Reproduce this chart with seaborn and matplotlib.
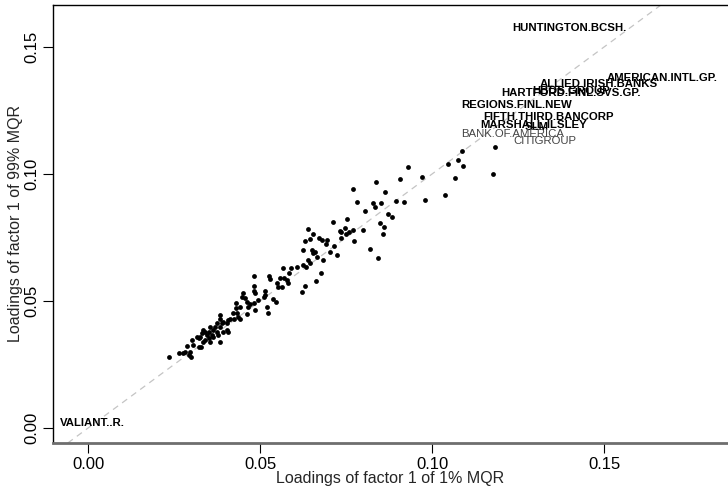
import numpy as np
import pandas as pd
import matplotlib
matplotlib.use("Agg")
import matplotlib.pyplot as plt
import seaborn as sns

sns.set_theme(style="white")
plt.rcParams["font.family"] = ["Liberation Sans", "DejaVu Sans"]

# loadings (1% MQR on x, 99% MQR on y)
load_1 = [0.1086, 0.1176, 0.1047, 0.1076, 0.1091, 0.1067, 0.1038, 0.0970, 0.0980, 0.0931,
          0.0907, 0.0919, 0.0894, 0.0836, 0.0864, 0.0770, 0.0782, 0.0829, 0.0852, 0.0834,
          0.0805, 0.0873, 0.0883, 0.0849, 0.0860, 0.0858, 0.0800, 0.0818, 0.0844, 0.0774,
          0.0713, 0.0752, 0.0731, 0.0735, 0.0747, 0.0757, 0.0749, 0.0769, 0.0734, 0.0639,
          0.0653, 0.0631, 0.0645, 0.0671, 0.0679, 0.0694, 0.0692, 0.0715, 0.0703, 0.0723,
          0.0684, 0.0626, 0.0650, 0.0660, 0.0665, 0.0653, 0.0640, 0.0624, 0.0634, 0.0645,
          0.0607, 0.0590, 0.0566, 0.0585, 0.0577, 0.0568, 0.0558, 0.0548, 0.0553, 0.0565,
          0.0582, 0.0527, 0.0529, 0.0483, 0.0481, 0.0482, 0.0485, 0.0513, 0.0514, 0.0510,
          0.0495, 0.0481, 0.0485, 0.0451, 0.0447, 0.0456, 0.0461, 0.0471, 0.0466, 0.0442,
          0.0430, 0.0430, 0.0422, 0.0432, 0.0437, 0.0442, 0.0424, 0.0413, 0.0403, 0.0408,
          0.0384, 0.0382, 0.0393, 0.0388, 0.0384, 0.0374, 0.0369, 0.0364, 0.0355, 0.0350,
          0.0345, 0.0340, 0.0335, 0.0330, 0.0325, 0.0321, 0.0316, 0.0301, 0.0306, 0.0321,
          0.0327, 0.0340, 0.0355, 0.0364, 0.0379, 0.0384, 0.0393, 0.0403, 0.0408, 0.0374,
          0.0359, 0.0350, 0.0335, 0.0287, 0.0282, 0.0277, 0.0296, 0.0298, 0.0292, 0.0263,
          0.0236, 0.0621, 0.0631, 0.0663, 0.0676, 0.0524, 0.0546, 0.0537, 0.0519, 0.0461,
          0.1183]
load_99 = [0.1091, 0.1000, 0.1039, 0.1055, 0.1032, 0.0985, 0.0919, 0.0989, 0.0897, 0.1028,
           0.0980, 0.0891, 0.0893, 0.0967, 0.0930, 0.0939, 0.0891, 0.0884, 0.0884, 0.0868,
           0.0855, 0.0841, 0.0830, 0.0805, 0.0790, 0.0763, 0.0779, 0.0703, 0.0668, 0.0737,
           0.0812, 0.0824, 0.0777, 0.0770, 0.0786, 0.0773, 0.0763, 0.0779, 0.0749, 0.0782,
           0.0762, 0.0737, 0.0742, 0.0746, 0.0740, 0.0740, 0.0723, 0.0716, 0.0694, 0.0681,
           0.0661, 0.0700, 0.0700, 0.0694, 0.0674, 0.0687, 0.0661, 0.0641, 0.0635, 0.0648,
           0.0632, 0.0628, 0.0628, 0.0611, 0.0582, 0.0592, 0.0589, 0.0572, 0.0556, 0.0556,
           0.0569, 0.0599, 0.0585, 0.0598, 0.0559, 0.0539, 0.0530, 0.0539, 0.0523, 0.0517,
           0.0504, 0.0491, 0.0464, 0.0530, 0.0517, 0.0510, 0.0497, 0.0488, 0.0477, 0.0477,
           0.0491, 0.0471, 0.0451, 0.0451, 0.0438, 0.0431, 0.0431, 0.0431, 0.0412, 0.0425,
           0.0445, 0.0431, 0.0418, 0.0412, 0.0399, 0.0412, 0.0399, 0.0386, 0.0399, 0.0379,
           0.0366, 0.0379, 0.0386, 0.0373, 0.0359, 0.0353, 0.0359, 0.0346, 0.0327, 0.0320,
           0.0320, 0.0346, 0.0340, 0.0359, 0.0366, 0.0340, 0.0379, 0.0386, 0.0379, 0.0379,
           0.0366, 0.0353, 0.0340, 0.0323, 0.0300, 0.0294, 0.0300, 0.0281, 0.0287, 0.0294,
           0.0278, 0.0537, 0.0559, 0.0580, 0.0611, 0.0454, 0.0497, 0.0508, 0.0477, 0.0449,
           0.1106]

# labelled firms (drawn as names instead of points)
firm_names = ["HUNTINGTON.BCSH.", "AMERICAN.INTL.GP.", "ALLIED.IRISH.BANKS", "HARTFORD.FINL.SVS.GP.",
              "HBOS.GROUP", "REGIONS.FINL.NEW", "FIFTH.THIRD.BANCORP", "MARSHALL.ILSLEY", "SLM",
              "BANK.OF.AMERICA", "CITIGROUP", "VALIANT..R."]
firm_x = [0.1398, 0.1669, 0.1485, 0.1404, 0.1404, 0.1247, 0.1337, 0.1294, 0.1305, 0.1235, 0.1328, 0.0012]
firm_y = [0.1575, 0.1378, 0.1354, 0.1319, 0.1327, 0.1272, 0.1224, 0.1193, 0.1185, 0.1157, 0.1130, 0.0020]
firm_bold = [True, True, True, True, True, True, True, True, True, False, False, True]

df = pd.DataFrame({"q01": load_1, "q99": load_99})

fig = plt.figure(figsize=(7.28, 4.87), dpi=100)
ax = fig.add_axes([53/728, 44/487, 675/728, 438/487])

ax.axline((0, 0), slope=1, color="#c4c4c4", lw=0.9, ls=(0, (5, 4)), zorder=1)
sns.scatterplot(data=df, x="q01", y="q99", ax=ax, color="black", s=12, linewidth=0, zorder=3)

for name, x, y, b in zip(firm_names, firm_x, firm_y, firm_bold):
    ax.text(x, y, name, ha="center", va="center", fontsize=8.2,
            fontweight="bold" if b else "normal",
            color="black" if b else "#444444", zorder=4)

ax.set_xlim(-0.0102, 0.186)
ax.set_ylim(-0.0059, 0.1665)
ax.set_xticks([0.0, 0.05, 0.10, 0.15])
ax.set_xticklabels(["0.00", "0.05", "0.10", "0.15"])
ax.set_yticks([0.0, 0.05, 0.10, 0.15])
ax.set_yticklabels(["0.00", "0.05", "0.10", "0.15"], rotation=90, va="center")
ax.tick_params(axis="both", direction="out", length=7, width=0.8, colors="black",
               labelsize=12, pad=3, bottom=True, left=True)
ax.set_xlabel("Loadings of factor 1 of 1% MQR", fontsize=11.5, labelpad=-1)
ax.set_ylabel("Loadings of factor 1 of 99% MQR", fontsize=11.5, labelpad=1)

ax.spines["right"].set_visible(False)
for s in ["left", "top"]:
    ax.spines[s].set_color("black")
    ax.spines[s].set_linewidth(1.0)
ax.spines["bottom"].set_color("#6e6e6e")
ax.spines["bottom"].set_linewidth(2.0)
ax.grid(False)

fig.savefig("out.png", dpi=100)
